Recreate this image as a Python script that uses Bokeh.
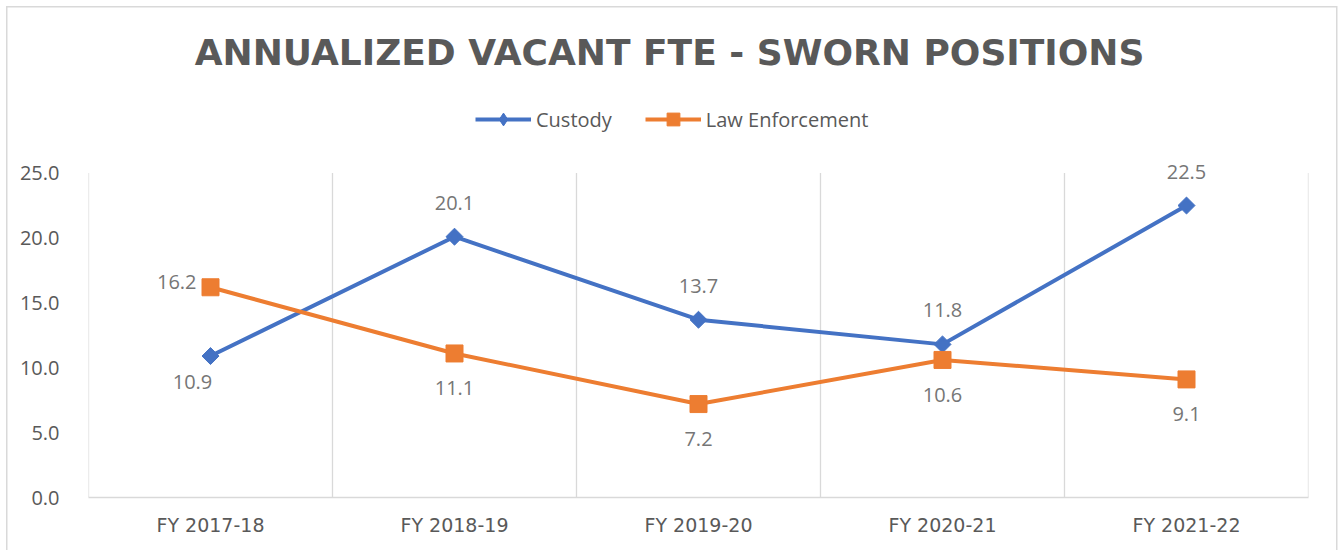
import numpy as np
from bokeh.plotting import figure
from bokeh.models import (FactorRange, Range1d, FixedTicker, NumeralTickFormatter,
                          Label, Legend, LegendItem, ColumnDataSource)
from bokeh.core.properties import value
from bokeh.embed import file_html
from bokeh.resources import INLINE

# ---------------- data ----------------
categories = ["FY 2017-18", "FY 2018-19", "FY 2019-20", "FY 2020-21", "FY 2021-22"]
custody = [10.9, 20.1, 13.7, 11.8, 22.5]
law_enforcement = [16.2, 11.1, 7.2, 10.6, 9.1]
y_ticks = [0, 5, 10, 15, 20, 25]
title_text = "ANNUALIZED VACANT FTE - SWORN POSITIONS"
series_names = ["Custody", "Law Enforcement"]

# ---------------- style ----------------
custody_label_pos = ["below-left", "above", "above", "above", "above"]
law_label_pos = ["left", "below", "below", "below", "below"]

FONT = "Open Sans"
BLUE = "#4472C4"
ORANGE = "#ED7D31"
GRID = "#d9d9d9"
TXT = "#595959"
LBL = "#767676"

POS = {
    "above": (0, -34, "center"),
    "below": (0, 35, "center"),
    "left": (-14, -5, "right"),
    "below-left": (-18, 26, "center"),
}

Y_TOP = 38.3  # extra room above the value axis for title and legend

p = figure(width=1339, height=550,
           x_range=FactorRange(*categories), y_range=Range1d(0, Y_TOP),
           output_backend="svg", toolbar_location=None,
           min_border_left=88, min_border_right=31,
           min_border_top=0, min_border_bottom=53)
g = "linear-gradient(#d9d9d9,#d9d9d9)"
p.styles = {
    "background": (f"{g} left 6px top 6px / 1.5px 100% no-repeat, "
                   f"{g} left 6px top 6px / 1331px 1.5px no-repeat, "
                   f"{g} right 2px top 6px / 1.5px 100% no-repeat, white"),
}
p.border_fill_color = None
p.background_fill_color = None
p.outline_line_color = None
p.xgrid.visible = False
p.ygrid.visible = False

# vertical boundary gridlines (category boundaries), from 0 to the top tick
bounds = list(range(len(categories) + 1))
p.segment(x0=bounds, y0=[y_ticks[0]] * len(bounds), x1=bounds, y1=[y_ticks[-1]] * len(bounds),
          line_color=GRID, line_width=1.3)

cs = ColumnDataSource(dict(x=categories, y=custody))
ls = ColumnDataSource(dict(x=categories, y=law_enforcement))

l1 = p.line("x", "y", source=cs, line_color=BLUE, line_width=4)
s1 = p.scatter("x", "y", source=cs, marker="square", angle=np.pi / 4, size=12,
               fill_color=BLUE, line_color=BLUE)
# diamond swatch for the legend (legend ignores marker angle); sits inside the rotated squares
s1_leg = p.scatter("x", "y", source=cs, marker="diamond", size=10,
                   fill_color=BLUE, line_color=BLUE)
l2 = p.line("x", "y", source=ls, line_color=ORANGE, line_width=4)
s2 = p.scatter("x", "y", source=ls, marker="square", size=17,
               fill_color=ORANGE, line_color=ORANGE)

# data labels, grouped by alignment
for vals, pos in ((custody, custody_label_pos), (law_enforcement, law_label_pos)):
    for align in ("center", "right"):
        idx = [i for i, k in enumerate(pos) if POS[k][2] == align]
        if not idx:
            continue
        src = ColumnDataSource(dict(
            x=[categories[i] for i in idx],
            y=[vals[i] for i in idx],
            dx=[POS[pos[i]][0] for i in idx],
            dy=[POS[pos[i]][1] for i in idx],
            txt=[f"{vals[i]:.1f}" for i in idx],
        ))
        p.text("x", "y", text="txt", source=src, x_offset="dx", y_offset="dy",
               text_align=align, text_baseline="middle",
               text_font=value(FONT), text_font_size="20px", text_color=LBL)

# axes
p.yaxis.ticker = FixedTicker(ticks=y_ticks)
p.yaxis.formatter = NumeralTickFormatter(format="0.0")
p.yaxis.axis_line_color = None
p.yaxis.major_tick_line_color = None
p.yaxis.minor_tick_line_color = None
p.yaxis.major_label_text_font = FONT
p.yaxis.major_label_text_font_size = "20px"
p.yaxis.major_label_text_color = TXT
p.yaxis.major_label_standoff = 23

p.xaxis.axis_line_color = GRID
p.xaxis.axis_line_width = 1.5
p.xaxis.major_tick_line_color = None
p.xaxis.major_label_text_font = "DejaVu Sans"
p.xaxis.major_label_text_font_size = "19px"
p.xaxis.major_label_text_color = TXT
p.xaxis.major_label_standoff = 10

# title (centred on the whole chart, not on the plot area)
p.add_layout(Label(x=len(categories) / 2, y=34.3, x_offset=-29, text=title_text,
                   text_align="center", text_baseline="middle",
                   text_font="DejaVu Sans", text_font_style="bold", text_font_size="36px",
                   text_color=TXT))

# legend
legend = Legend(items=[LegendItem(label=series_names[0], renderers=[l1, s1_leg]),
                       LegendItem(label=series_names[1], renderers=[l2, s2])],
                orientation="horizontal", location=(387, 362),
                glyph_width=56, glyph_height=32, label_standoff=5, spacing=33,
                label_text_font=FONT, label_text_font_size="20px", label_text_color=TXT,
                border_line_color=None, background_fill_alpha=0, padding=0, margin=0)
p.add_layout(legend)

open("out.html", "w").write(file_html(p, INLINE))
